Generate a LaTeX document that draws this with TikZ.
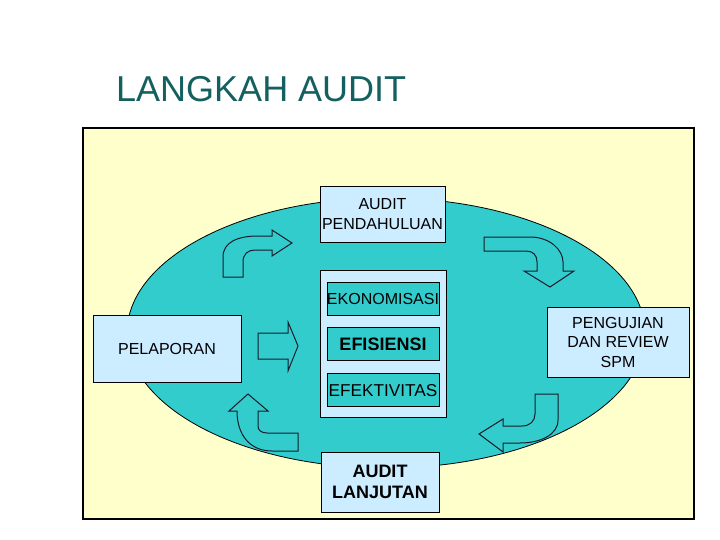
\documentclass[tikz,border=0pt]{standalone}
\usepackage{fontspec}
\setmainfont{Liberation Sans}
\usetikzlibrary{positioning}
\definecolor{panelyellow}{HTML}{FFFFCC}
\definecolor{tealfill}{HTML}{33CCCC}
\definecolor{boxblue}{HTML}{CCECFF}
\definecolor{titleteal}{RGB}{20,95,95}
\definecolor{edge}{HTML}{1A1A2A}
\tikzset{
panel/.style={draw=black,line width=1.2pt,fill=panelyellow},
oval/.style={draw=black,line width=0.8pt,fill=tealfill},
stage/.style={draw=black,line width=0.8pt,fill=boxblue,inner sep=1pt,align=center,font=\fontsize{16}{19.5}\selectfont},
stagebold/.style={stage,font=\fontsize{18}{21}\selectfont\bfseries},
facet/.style={draw=black,line width=0.8pt,fill=tealfill,minimum width=112pt,minimum height=33pt,inner sep=0pt,font=\fontsize{16}{19}\selectfont},
blockarrow/.style={draw=edge,line width=1pt,fill=tealfill,line join=miter},
heading/.style={font=\fontsize{36}{40}\selectfont,text=titleteal,anchor=base west,inner sep=0pt}
}
\begin{document}
\begin{tikzpicture}[x=1pt,y=-1pt]
\useasboundingbox (0,0) rectangle (720,540);
\node[heading] (judul) at (116,102) {LANGKAH AUDIT};
\draw[panel] (83,128) rectangle (694,519);
\draw[oval] (386,333) ellipse [x radius=259pt,y radius=135pt];
\node[stage,minimum width=125pt,minimum height=56pt] (pendahuluan) at (382.5,214) {AUDIT\\PENDAHULUAN};
\node[stage,minimum width=126pt,minimum height=147pt] (ruang) at (383,343.5) {};
\node[facet] (ekonomi) at (383,298.5) {EKONOMISASI};
\node[facet,below=12pt of ekonomi,font=\fontsize{18}{21}\selectfont\bfseries] (efisien) {EFISIENSI};
\node[facet,below=12pt of efisien,font=\fontsize{17.2}{20}\selectfont] (efektif) {EFEKTIVITAS};
\node[stage,minimum width=148pt,minimum height=67pt] (pelaporan) at (167,348.5) {PELAPORAN};
\node[stage,minimum width=142pt,minimum height=70pt] (pengujian) at (618,342) {PENGUJIAN\\DAN REVIEW\\SPM};
\node[stagebold,minimum width=118pt,minimum height=60pt] (lanjutan) at (380,482) {AUDIT\\LANJUTAN};
\draw[blockarrow] (223,277) -- (223,257) .. controls (223,242) and (238,236) .. (258,236) -- (272,236) -- (272,230) -- (292,243) -- (272,256) -- (272,250) -- (255,250) .. controls (248,250) and (243,254) .. (243,262) -- (243,277) -- cycle;
\draw[blockarrow] (484,237) -- (530,237) .. controls (550,237) and (563,250) .. (563,262) -- (563,271) -- (574,271) -- (550,287) -- (524,271) -- (537,271) -- (537,262) .. controls (537,255) and (533,251) .. (526,251) -- (484,251) -- cycle;
\draw[blockarrow] (298,451) -- (272,451) .. controls (250,451) and (237,435) .. (237,411) -- (229,411) -- (248,394) -- (268,411) -- (258,411) -- (258,426) .. controls (258,430) and (261,433) .. (267,433) -- (298,433) -- cycle;
\draw[blockarrow] (535,394) -- (558,394) -- (558,420) .. controls (558,435) and (540,443) .. (520,443) -- (503,443) -- (503,452) -- (479,434) -- (503,419) -- (503,426) -- (522,426) .. controls (530,426) and (535,421) .. (535,414) -- cycle;
\draw[blockarrow] (258,333) -- (288,333) -- (288,322) -- (298,346) -- (288,371) -- (288,359) -- (258,359) -- cycle;
\end{tikzpicture}
\end{document}
